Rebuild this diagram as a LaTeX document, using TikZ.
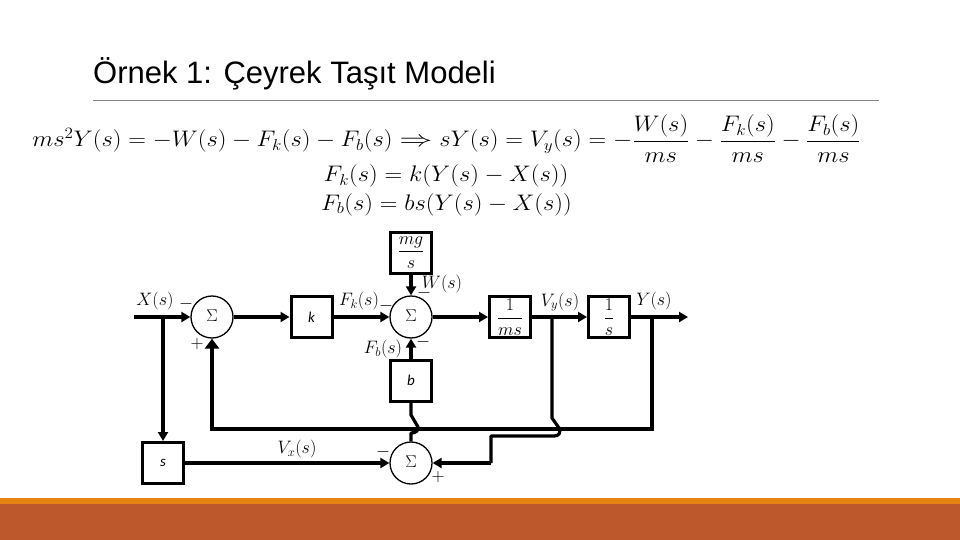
\documentclass[tikz,border=0pt]{standalone}
\usepackage{fix-cm}
\usepackage{amsmath}
\usepackage{graphicx}
\usepackage{fontspec}
\setmainfont{Liberation Sans}
\newfontfamily\labelsans{Carlito}
\usetikzlibrary{arrows.meta}
\definecolor{barorange}{HTML}{E48312}
\definecolor{barbrown}{HTML}{BD582C}
\definecolor{rulegray}{HTML}{868686}
\newcommand{\eqsize}{\fontsize{22.5}{26}\selectfont}
\newcommand{\lblsize}{\fontsize{18}{21}\selectfont}
\newcommand{\wideeq}[1]{\scalebox{1.09}[1]{#1}}
\newcommand{\lowered}[1]{\raisebox{-2.5pt}{#1}}
\tikzset{
  x=1pt,y=-1pt,
  blockbox/.style={draw=black,line width=3pt,minimum width=41pt,minimum height=41pt,inner sep=0pt,font=\lblsize},
  sumnode/.style={draw=black,circle,line width=1.3pt,minimum size=42pt,inner sep=0pt,font=\fontsize{17}{19}\selectfont},
  wire/.style={line width=3.2pt,line join=round},
  flow/.style={wire,-{Triangle[length=9pt,width=10pt]}},
  fatflow/.style={line width=3.8pt,line join=miter,-{Triangle[length=10pt,width=14pt]}},
  signlabel/.style={inner sep=0pt,font=\lblsize},
  siglabel/.style={inner sep=0pt,font=\lblsize},
  eqline/.style={inner sep=0pt,anchor=base,font=\eqsize},
  sanslabel/.style={font=\fontsize{15}{18}\selectfont\labelsans\itshape}
}
\begin{document}
\begin{tikzpicture}
\useasboundingbox (0,0) rectangle (960,540);
\fill[white] (0,0) rectangle (960,540);
\fill[barorange] (0,498) rectangle (960,504);
\fill[barbrown] (0,504) rectangle (960,540);
\node[inner sep=0pt,anchor=base west,font=\fontsize{31}{35}\selectfont] (title) at (93,84) {Örnek 1: Çeyrek Taşıt Modeli};
\coordinate (ruleA) at (93,101);
\coordinate (ruleB) at (879,101);
\draw[rulegray,line width=1pt] (ruleA) -- (ruleB);

\node[eqline] (eqa) at (446.5,147) {\wideeq{$ms^2Y(s)=-W(s)-F_k(s)-F_b(s)\mathrel{\scalebox{1.35}[1]{$\Rightarrow$}} sY(s)=V_y(s)=-\dfrac{W(s)}{ms}-\dfrac{F_k(s)}{ms}-\dfrac{F_b(s)}{ms}$}};
\node[eqline] (eqb) at (446,182) {\wideeq{$F_k(s)=k(Y(s)-X(s))$}};
\node[eqline] (eqc) at (446.5,210) {\wideeq{$F_b(s)=bs(Y(s)-X(s))$}};

% blocks
\node[sumnode] (sumA) at (212,317) {\raisebox{2pt}{$\Sigma$}};
\node[sumnode] (sumB) at (411,317) {\raisebox{2pt}{$\Sigma$}};
\node[sumnode] (sumC) at (411,463) {\raisebox{2pt}{$\Sigma$}};
\node[blockbox,sanslabel] (k) at (311.5,317) {k};
\node[blockbox] (mg) at (411,252.5) {\lowered{$\dfrac{mg}{s}$}};
\node[blockbox,sanslabel] (b) at (411,380.5) {b};
\node[blockbox] (ms) at (510,317) {\lowered{$\dfrac{1}{ms}$}};
\node[blockbox] (inv) at (609,317) {\lowered{$\dfrac{1}{s}$}};
\node[blockbox,sanslabel] (s) at (163,463) {s};

% coordinates
\coordinate (xin) at (134,317);
\coordinate (xtap) at (163,317);
\coordinate (yout) at (688,317);
\coordinate (ytap) at (652,317);
\coordinate (fbR) at (652,429);
\coordinate (fbL) at (212,429);
\coordinate (vtap) at (552,317);
\coordinate (vA) at (552,418);
\coordinate (vB) at (559,428);
\coordinate (vC) at (554,436);
\coordinate (vD) at (491,436);
\coordinate (vE) at (491,463);
\coordinate (bA) at (411,415);
\coordinate (bB) at (418,427);
\coordinate (bC) at (411,433);

% connectors
\draw[flow] (xin) -- (sumA.west);
\draw[flow] (xtap) -- (s.north);
\draw[flow] (sumA.east) -- (k.west);
\draw[flow] (k.east) -- (sumB.west);
\draw[flow] (mg.south) -- (sumB.north);
\draw[flow] (b.north) -- (sumB.south);
\draw[flow] (sumB.east) -- (ms.west);
\draw[flow] (ms.east) -- (inv.west);
\draw[flow] (inv.east) -- (yout);
\draw[fatflow] (ytap) -- (fbR) -- (fbL) -- (sumA.south);
\draw[flow] (s.east) -- (sumC.west);
\draw[wire] (vtap) -- (vA) -- (vB) .. controls (561,433) and (559,436) .. (vC) -- (vD) -- (vE);
\draw[flow] (vE) -- (sumC.east);
\draw[wire] (b.south) -- (bA) -- (bB) .. controls (419,431) and (415,433) .. (bC) -- (sumC.north);

% signal labels
\node[siglabel] (lx) at (155,301) {$X(s)$};
\node[siglabel] (lfk) at (359,301) {$F_k(s)$};
\node[siglabel] (lfb) at (383,349) {$F_b(s)$};
\node[siglabel] (lvx) at (297,449) {$V_x(s)$};
\node[siglabel] (lw) at (442,284) {$W(s)$};
\node[siglabel] (lvy) at (560,302) {$V_y(s)$};
\node[siglabel] (ly) at (654,301) {$Y(s)$};

% signs
\node[signlabel] (sa1) at (186,304) {$-$};
\node[signlabel] (sa2) at (197,344) {$+$};
\node[signlabel] (sb1) at (386,306) {$-$};
\node[signlabel] (sb2) at (424,293) {$-$};
\node[signlabel] (sb3) at (423,342) {$-$};
\node[signlabel] (sc1) at (383,452) {$-$};
\node[signlabel] (sc2) at (438,477) {$+$};
\end{tikzpicture}
\end{document}
